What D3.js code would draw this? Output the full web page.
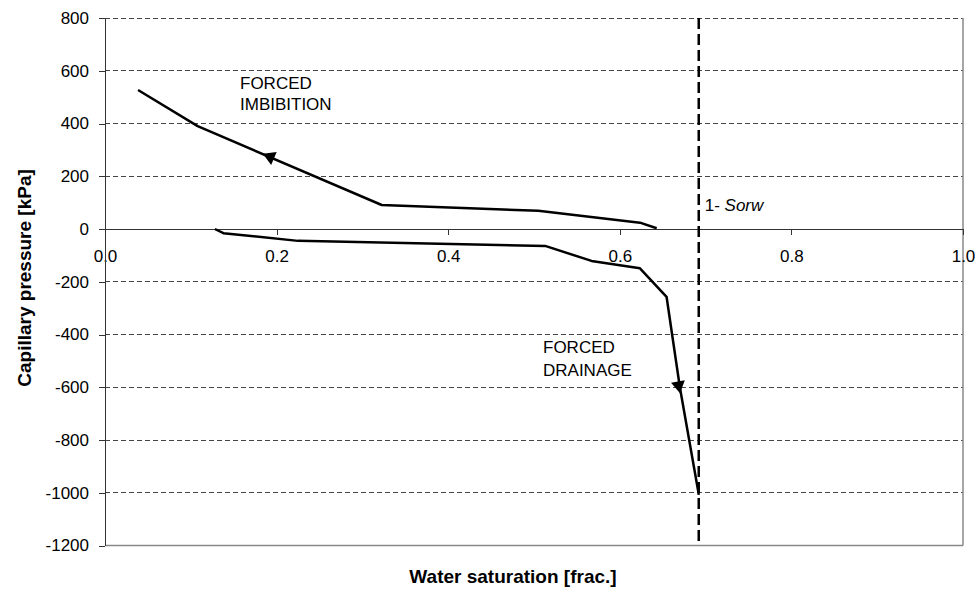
<!DOCTYPE html>
<html>
<meta charset="utf-8">

<head>
	<title>Capillary pressure vs water saturation</title>
	<style>

	body { margin: 0; background: #fff; }

	svg { font-family: "Liberation Sans", Arial, sans-serif; }

	.axis text {
	  font-size: 17px;
	  fill: #000;
	}

	.axis path,
	.axis line {
	  fill: none;
	  stroke: #333;
	  shape-rendering: crispEdges;
	}

	.grid line {
	  stroke: #444;
	  stroke-dasharray: 5,3;
	  shape-rendering: crispEdges;
	}

	.curve {
	  fill: none;
	  stroke: #000;
	  stroke-width: 2.5;
	  stroke-linejoin: round;
	}

	.title {
	  font-size: 19px;
	  font-weight: bold;
	}

	.note {
	  font-size: 17px;
	}

	</style>
</head>

<body>

<script src="https://d3js.org/d3.v7.min.js"></script>

<script>

// forced imbibition curve (Sw frac, Pc kPa)
var imbSw = [0.0385, 0.108, 0.3225, 0.505, 0.6235, 0.643];
var imbPc = [527, 390, 91, 69, 24, 3];

// forced drainage curve
var drnSw = [0.128, 0.138, 0.225, 0.513, 0.567, 0.6235, 0.6545, 0.670, 0.6915, 0.692];
var drnPc = [0, -16, -45, -64, -121, -149, -257, -600, -996, -1008];

// 1 - Sorw
var sorw = 0.692;

// arrow heads on the curves
var arrowSw = [0.184, 0.6702];
var arrowPc = [285, -623];

var xTicks = [0, 0.2, 0.4, 0.6, 0.8, 1.0];
var yTicks = [-1200, -1000, -800, -600, -400, -200, 0, 200, 400, 600, 800];

var margin = {top: 18, right: 12, bottom: 46.5, left: 105},
    width = 975 - margin.left - margin.right,
    height = 592 - margin.top - margin.bottom;

var x = d3.scaleLinear().domain([0, 1]).range([0, width]);
var y = d3.scaleLinear().domain([-1200, 800]).range([height, 0]);

var svg = d3.select("body").append("svg")
    .attr("width", 975)
    .attr("height", 592)
    .append("g")
    .attr("transform", "translate(" + margin.left + "," + margin.top + ")");

// dashed gridlines
svg.append("g")
    .attr("class", "grid")
    .selectAll("line")
    .data(yTicks.filter(function(d) { return d != 0 && d != -1200; }))
    .enter().append("line")
    .attr("x1", 0)
    .attr("x2", width)
    .attr("y1", function(d) { return y(d); })
    .attr("y2", function(d) { return y(d); });

// right and bottom frame
svg.append("line")
    .attr("x1", width).attr("x2", width)
    .attr("y1", 0).attr("y2", height)
    .style("stroke", "#888").style("stroke-width", 1.5);
svg.append("line")
    .attr("x1", 0).attr("x2", width)
    .attr("y1", height).attr("y2", height)
    .style("stroke", "#888").style("stroke-width", 1.5);

var xAxis = d3.axisBottom(x)
    .tickValues(xTicks)
    .tickSize(6)
    .tickSizeOuter(0)
    .tickPadding(15)
    .tickFormat(d3.format(".1f"));

var yAxis = d3.axisLeft(y)
    .tickValues(yTicks)
    .tickSize(6)
    .tickSizeOuter(0)
    .tickPadding(10)
    .tickFormat(function(d) { return String(d); });

svg.append("g")
    .attr("class", "x axis")
    .attr("transform", "translate(0," + y(0) + ")")
    .call(xAxis);

svg.append("g")
    .attr("class", "y axis")
    .call(yAxis)
    .select(".domain")
    .style("stroke-width", 1.5);

// 1-Sorw line
svg.append("line")
    .attr("x1", x(sorw)).attr("x2", x(sorw))
    .attr("y1", 0).attr("y2", height)
    .style("stroke", "#000")
    .style("stroke-width", 2.5)
    .style("stroke-dasharray", "11,5");

var line = d3.line()
    .x(function(d) { return x(d[0]); })
    .y(function(d) { return y(d[1]); });

var imb = d3.zip(imbSw, imbPc);
var drn = d3.zip(drnSw, drnPc);

svg.append("path").attr("class", "curve").attr("d", line(imb));
svg.append("path").attr("class", "curve").attr("d", line(drn));

// arrow heads, pointing along the direction of travel
function heading(pts, pc) {
  for (var i = 0; i < pts.length - 1; i++) {
    var a = pts[i], b = pts[i + 1];
    if ((pc - a[1]) * (pc - b[1]) <= 0) {
      return [b, a];
    }
  }
  return [pts[1], pts[0]];
}

var dirs = [heading(imb, arrowPc[0]), heading(drn, arrowPc[1]).reverse()];

arrowSw.forEach(function(sw, i) {
  var p = dirs[i][0], q = dirs[i][1];
  var ang = Math.atan2(y(q[1]) - y(p[1]), x(q[0]) - x(p[0])) * 180 / Math.PI;
  svg.append("path")
      .attr("d", "M0,0L-12,-7L-12,7Z")
      .attr("transform", "translate(" + x(sw) + "," + y(arrowPc[i]) + ") rotate(" + ang + ")")
      .style("fill", "#000");
});

// labels
var imbLbl = svg.append("text").attr("class", "note")
    .attr("x", 135).attr("y", 71);
imbLbl.append("tspan").attr("x", 135).text("FORCED");
imbLbl.append("tspan").attr("x", 135).attr("dy", 21).text("IMBIBITION");

var drnLbl = svg.append("text").attr("class", "note")
    .attr("x", 438).attr("y", 335);
drnLbl.append("tspan").attr("x", 438).text("FORCED");
drnLbl.append("tspan").attr("x", 438).attr("dy", 23).text("DRAINAGE");

var sLbl = svg.append("text").attr("class", "note")
    .attr("x", x(sorw) + 6).attr("y", 193);
sLbl.append("tspan").text("1- ");
sLbl.append("tspan").style("font-style", "italic").text("Sorw");

// axis titles
svg.append("text")
    .attr("class", "title")
    .attr("x", 408)
    .attr("y", 565)
    .style("text-anchor", "middle")
    .text("Water saturation [frac.]");

svg.append("text")
    .attr("class", "title")
    .attr("transform", "translate(-74," + (278 - margin.top) + ") rotate(-90)")
    .style("text-anchor", "middle")
    .text("Capillary pressure [kPa]");

</script>

</body>
</html>
